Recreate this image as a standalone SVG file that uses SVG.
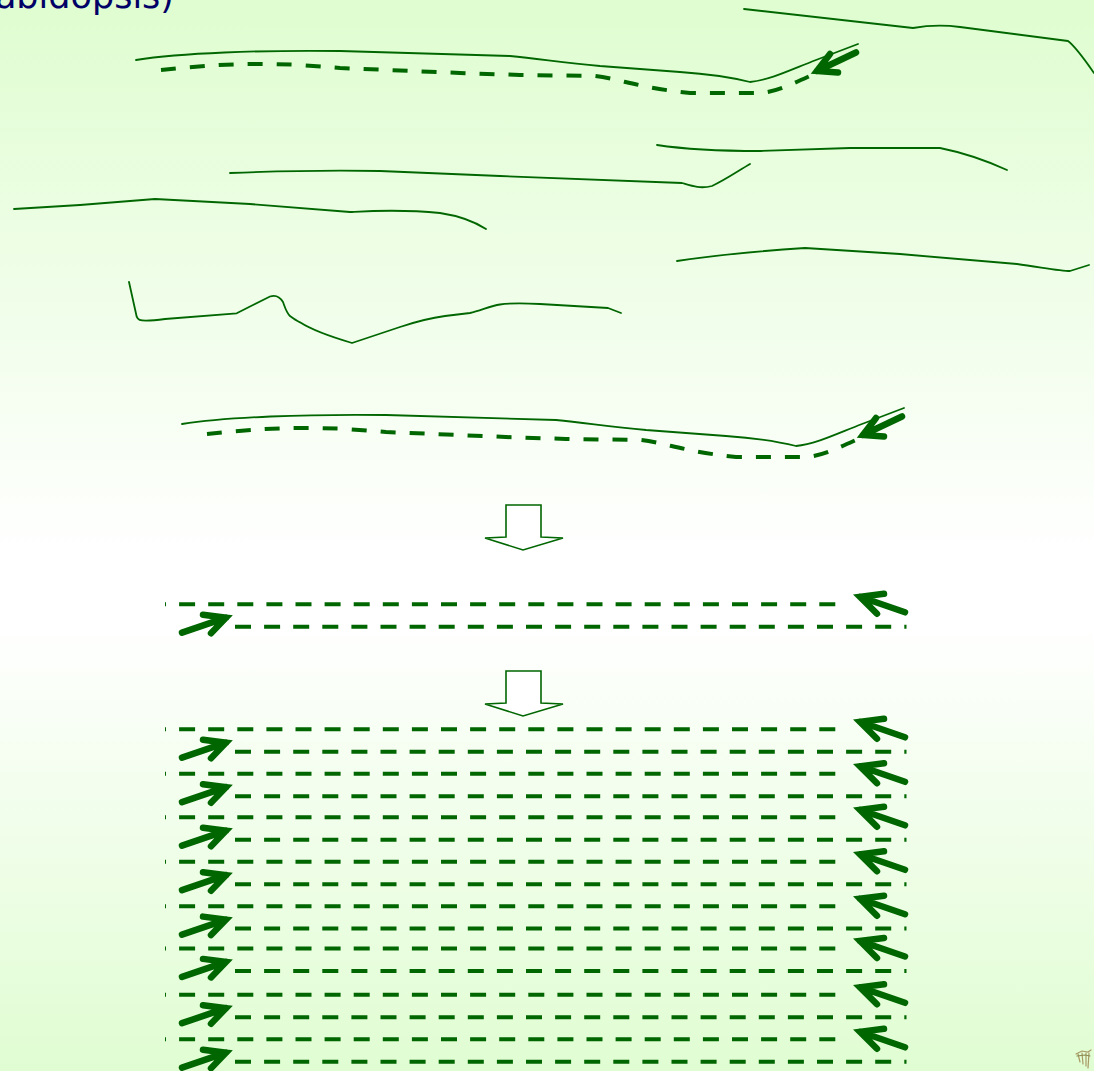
<svg xmlns="http://www.w3.org/2000/svg" xmlns:xlink="http://www.w3.org/1999/xlink" width="1094" height="1071" viewBox="0 0 1094 1071">
<defs>
<linearGradient id="bg" x1="0" y1="0" x2="0" y2="1">
<stop offset="0" stop-color="#dffdd0"/>
<stop offset="0.52" stop-color="#ffffff"/>
<stop offset="0.58" stop-color="#ffffff"/>
<stop offset="1" stop-color="#e0fdd2"/>
</linearGradient>
<style>
.sol{fill:none;stroke:#006600;stroke-width:1.8;stroke-linejoin:round;stroke-linecap:round}
.dcur{fill:none;stroke:#006600;stroke-width:4;stroke-dasharray:15 14}
.row{fill:none;stroke:#006600;stroke-width:4;stroke-dasharray:16 13.1}
.rowa{stroke-dashoffset:15}
.arr{fill:none;stroke:#006600;stroke-width:6.5;stroke-linecap:round;stroke-linejoin:miter}
.big{fill:#ffffff;stroke:#006600;stroke-width:1.6;stroke-linejoin:miter}
</style>
<path id="la" class="arr" d="M182,6 L226,-9 M203,-12 L226,-9 L211,6.5"/>
<path id="ra" class="arr" d="M905,8 L860,-7.5 M884,-10.5 L860,-7.5 L877,9.5"/>
<g id="rivtpl">
<path class="sol" d="M136,60 C180,53 260,50 340,51 L510,56 C540,59 560,62 600,66 L680,72 C710,74 730,77 750,82 C770,80 790,70 816,60 L858,44"/>
<path class="dcur" d="M161,70 C200,66 240,62 300,65 L340,68 L460,73 L520,75 L595,76 C620,79 640,88 690,93 L760,93 C775,92 790,85 812,75"/>
<path class="arr" d="M856,52.5 L817,71 M830,54 L817,71 L838,72.5"/>
</g>
<g id="pair">
<line class="row rowa" x1="165" y1="0" x2="837" y2="0"/>
<line class="row" x1="235" y1="22.4" x2="906.5" y2="22.4"/>
<use xlink:href="#ra" href="#ra"/>
<use xlink:href="#la" href="#la" transform="translate(0,22.4)"/>
</g>
</defs>
<rect width="1094" height="1071" fill="url(#bg)"/>
<text id="title" x="174" y="7.5" text-anchor="end" font-family="DejaVu Sans, sans-serif" font-size="35" fill="#000066">abidopsis)</text>
<g id="curves">
<path class="sol" d="M744,9 L913,28 C930,25 945,25 960,27 L1068,41 C1076,47 1085,60 1094,73"/>
<use id="river1" xlink:href="#rivtpl" href="#rivtpl"/>
<path class="sol" d="M657,145 C690,150 720,151 760,151 L850,148 L940,148 C960,152 985,160 1007,170"/>
<path class="sol" d="M230,173 C280,171 330,170 380,171 L500,176 L682,183 C692,186 700,189 712,186 C725,180 738,171 750,164"/>
<path class="sol" d="M14,209 L80,205 L155,199 L250,204 L350,212 C370,211 400,209 440,213 C460,216 475,222 486,229"/>
<path class="sol" d="M677,261 C710,256 760,251 805,248 L900,254 L1017,264 C1040,267 1060,271 1070,271 L1089,265"/>
<path class="sol" d="M129,282 L136.7,316.7 C138,320 140,320.7 146,320.7 C152,320.7 158,320 165,319 L236.7,313.3 L253,305 L270,296.5 C276,294.5 280,297 283,302 C285,307 286,312 290,316 C294,319 297,321 300,322.3 C315,332 335,338 352,343 L400,327 C415,322 430,318 445,316 L470,313 C480,311 490,306 500,304.5 C510,303 520,303 540,304 L608,308 L621,313"/>
<use id="river2" xlink:href="#rivtpl" href="#rivtpl" transform="translate(46,364)"/>
</g>
<g id="bigarrows">
<polygon id="down1" class="big" points="506,505 541,505 541,537 563,538 523,550 485,538 506,537"/>
<polygon id="down2" class="big" points="506,671 541,671 541,703 563,704 523,716 485,704 506,703"/>
</g>
<g id="connectors">
<use xlink:href="#pair" href="#pair" transform="translate(0,604.3)"/>
<use xlink:href="#pair" href="#pair" transform="translate(0,729.3)"/>
<use xlink:href="#pair" href="#pair" transform="translate(0,773.8)"/>
<use xlink:href="#pair" href="#pair" transform="translate(0,817.3)"/>
<use xlink:href="#pair" href="#pair" transform="translate(0,861.8)"/>
<use xlink:href="#pair" href="#pair" transform="translate(0,906.2)"/>
<use xlink:href="#pair" href="#pair" transform="translate(0,948.5)"/>
<use xlink:href="#pair" href="#pair" transform="translate(0,994.8)"/>
<use xlink:href="#pair" href="#pair" transform="translate(0,1039.3)"/>
</g>
<g id="icon" fill="none" stroke="#a89a64" stroke-width="1.2" stroke-linecap="round">
<path d="M1076,1054 L1082,1051 L1088,1052 L1091,1050"/>
<path d="M1078,1054 L1080,1062 M1082,1053 L1083,1064 M1086,1053 L1086,1066 M1089,1053 L1088,1068"/>
<path d="M1077,1056 L1085,1055 L1090,1056" stroke="#8c8a50"/>
</g>
</svg>
